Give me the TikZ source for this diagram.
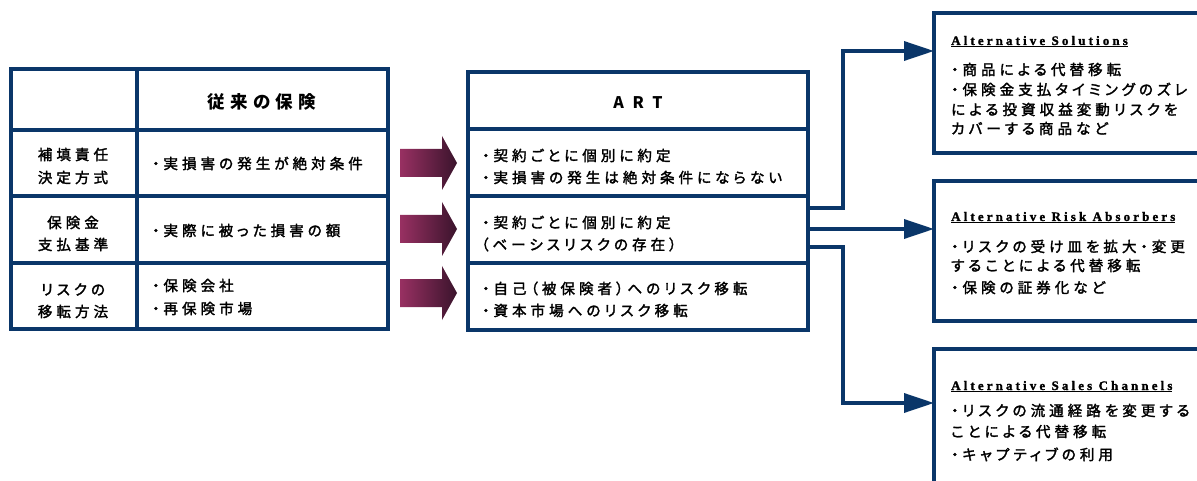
\documentclass[tikz,border=0pt]{standalone}
\usepackage{fontspec}
\newfontfamily\jp{Noto Sans CJK JP}[LetterSpace=28, RawFeature=+palt, FakeBold=2]
\newfontfamily\jph{Noto Sans CJK JP}[LetterSpace=30, RawFeature=+palt]
\newfontfamily\jpa{Noto Sans CJK JP}[LetterSpace=55]
\newfontfamily\ttl{Liberation Serif}[LetterSpace=24, FakeBold=1.5]
\usetikzlibrary{arrows.meta}
\definecolor{navy}{RGB}{10,54,105}
\definecolor{arrL}{RGB}{152,48,98}
\definecolor{arrR}{RGB}{58,20,44}
\tikzset{
  frame/.style={draw=navy, line width=4pt, inner sep=0pt, outer sep=0pt},
  sep/.style={draw=navy, line width=4pt},
  txt/.style={anchor=base west, inner sep=0pt, font=\jp\fontsize{14.5}{17}\selectfont},
  ctxt/.style={anchor=base, inner sep=0pt, font=\jp\fontsize{14.5}{17}\selectfont},
  head/.style={anchor=base, inner sep=0pt, font=\jph\bfseries\fontsize{17.5}{20}\selectfont},
  headA/.style={anchor=base, inner sep=0pt, font=\jpa\bfseries\fontsize{16}{20}\selectfont},
  title/.style={anchor=base west, inner sep=0pt, font=\ttl\bfseries\fontsize{13}{15}\selectfont},
  conn/.style={draw=navy, line width=3.5pt, -{Triangle[length=30pt,width=19pt]}},
}
\begin{document}
\begin{tikzpicture}[x=1pt,y=-1pt]
\useasboundingbox (0,0) rectangle (1197,481);
\begin{scope}
\clip (0,0) rectangle (1197,481);
% left table
\path[frame] (11,69) rectangle (388,329);
\node (L) at (199.5,199) [minimum width=377pt, minimum height=260pt, inner sep=0pt] {};
\draw[sep] (137,69) -- (137,329);
\draw[sep] (11,130) -- (388,130);
\draw[sep] (11,196) -- (388,196);
\draw[sep] (11,263) -- (388,263);
% ART table
\path[frame] (468,72) rectangle (808,330);
\node (art) at (638,201) [minimum width=340pt, minimum height=258pt, inner sep=0pt] {};
\draw[sep] (468,129) -- (808,129);
\draw[sep] (468,196) -- (808,196);
\draw[sep] (468,263) -- (808,263);
% right boxes
\node (sol) [frame, anchor=north west, minimum width=290pt, minimum height=140pt] at (934,13) {};
\node (abs) [frame, anchor=north west, minimum width=290pt, minimum height=140pt] at (934,181) {};
\node (chn) [frame, anchor=north west, minimum width=290pt, minimum height=160pt] at (934,349) {};
\end{scope}
% block arrows
\foreach \c in {163,229,293}{
  \shade[left color=arrL, right color=arrR]
    (400,\c-14) -- (442,\c-14) -- (442,\c-27) -- (457,\c) -- (442,\c+27) -- (442,\c+14) -- (400,\c+14) -- cycle;
}
% connectors
\coordinate (y1) at (0,208);
\coordinate (t1) at (0,51);
\coordinate (y2) at (0,229);
\coordinate (y3) at (0,247);
\coordinate (t3) at (0,403);
\coordinate (k) at (843,0);
\draw[conn] (art.east |- y1) -| (k |- t1) -- (sol.west |- t1);
\draw[conn] (art.east |- y2) -- (abs.west |- y2);
\draw[conn] (art.east |- y3) -| (k |- t3) -- (chn.west |- t3);
% headers
\node[head] (h1) at (262,109) {従来の保険};
\node[headA] (h2) at (638,109) {ART};
% left labels
\node[ctxt] (a1) at (73,160) {補填責任};
\node[ctxt] (a2) at (73,183) {決定方式};
\node[ctxt] (b1) at (73,228) {保険金};
\node[ctxt] (b2) at (73,250) {支払基準};
\node[ctxt] (c1) at (73,295) {リスクの};
\node[ctxt] (c2) at (73,317) {移転方法};
% traditional column
\node[txt] (m1) at (152,169) {・実損害の発生が絶対条件};
\node[txt] (m2) at (152,236) {・実際に被った損害の額};
\node[txt] (m3) at (152,291) {・保険会社};
\node[txt] (m4) at (152,314) {・再保険市場};
% ART column
\node[txt] (r1) at (482,161) {・契約ごとに個別に約定};
\node[txt] (r2) at (482,183) {・実損害の発生は絶対条件にならない};
\node[txt] (r3) at (482,228) {・契約ごとに個別に約定};
\node[txt] (r4) at (481,250) {（ベーシスリスクの存在）};
\node[txt] (r5) at (482,294) {・自己（被保険者）へのリスク移転};
\node[txt] (r6) at (482,316) {・資本市場へのリスク移転};
% right boxes text
\node[title] (s0) at (951,45) {\underline{Alternative Solutions}};
\node[txt] (s1) at (951,75) {・商品による代替移転};
\node[txt] (s2) at (951,95) {・保険金支払タイミングのズレ};
\node[txt] (s3) at (951,115) {による投資収益変動リスクを};
\node[txt] (s4) at (951,134) {カバーする商品など};
\node[title] (p0) at (951,221) {\underline{Alternative Risk Absorbers}};
\node[txt] (p1) at (951,252) {・リスクの受け皿を拡大・変更};
\node[txt] (p2) at (951,271) {することによる代替移転};
\node[txt] (p3) at (951,293) {・保険の証券化など};
\node[title] (q0) at (951,390) {\underline{Alternative Sales Channels}};
\node[txt] (q1) at (951,416) {・リスクの流通経路を変更する};
\node[txt] (q2) at (951,437) {ことによる代替移転};
\node[txt] (q3) at (951,460) {・キャプティブの利用};
\end{tikzpicture}
\end{document}
